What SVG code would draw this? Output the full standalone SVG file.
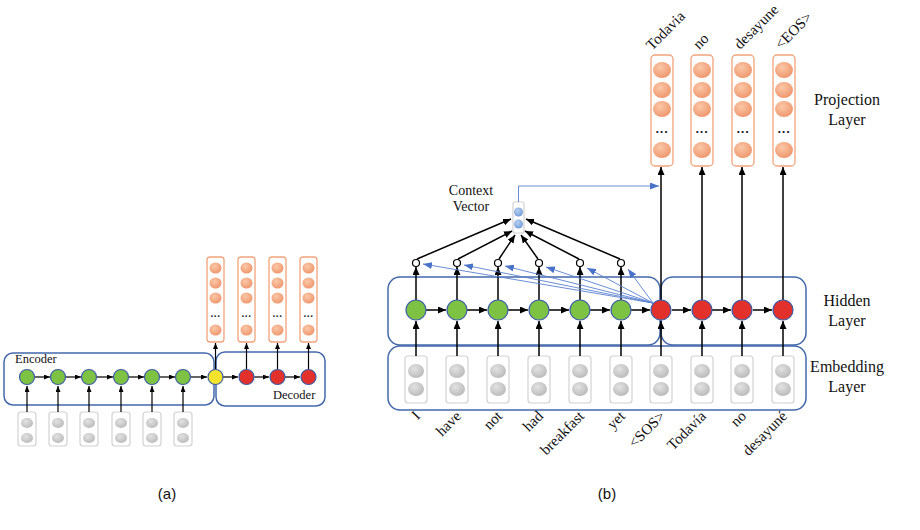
<svg xmlns="http://www.w3.org/2000/svg" width="920" height="530" viewBox="0 0 920 530">
<defs>
<marker id="ah" markerWidth="8" markerHeight="7" refX="8" refY="3.5" orient="auto" markerUnits="userSpaceOnUse"><path d="M0,0 L8,3.5 L0,7 z" fill="#000"/></marker>
<marker id="ahs" markerWidth="6" markerHeight="5" refX="6" refY="2.5" orient="auto" markerUnits="userSpaceOnUse"><path d="M0,0 L6,2.5 L0,5 z" fill="#000"/></marker>
<marker id="ab" markerWidth="9" markerHeight="7" refX="9" refY="3.5" orient="auto" markerUnits="userSpaceOnUse"><path d="M0,0 L9,3.5 L0,7 z" fill="#4A72C8"/></marker>
<radialGradient id="og" cx="0.4" cy="0.35" r="0.7"><stop offset="0" stop-color="#FBC8A8"/><stop offset="1" stop-color="#EE956B"/></radialGradient>
<radialGradient id="gg" cx="0.4" cy="0.35" r="0.7"><stop offset="0" stop-color="#E2E2E2"/><stop offset="1" stop-color="#B9B9B9"/></radialGradient>
<radialGradient id="bg" cx="0.4" cy="0.35" r="0.7"><stop offset="0" stop-color="#B8D0F0"/><stop offset="1" stop-color="#6F9AD8"/></radialGradient>
</defs>
<style>
.grp{fill:none;stroke:#4468AA;stroke-width:1.5}
.ob{fill:#fff;stroke:#F2A47C;stroke-width:1.3}
.oc{fill:url(#og)}
.gb{fill:#fff;stroke:#D2D2D2;stroke-width:1.2}
.gc{fill:url(#gg)}
.gn{fill:#7DC243;stroke:#3C5DA6;stroke-width:1.2}
.rn{fill:#E2302A;stroke:#3C5DA6;stroke-width:1.2}
.yn{fill:#F3E32C;stroke:#3C5DA6;stroke-width:1.2}
.ln{stroke:#000;stroke-width:1.5;fill:none}
.lns{stroke:#000;stroke-width:1.2;fill:none}
.bl{stroke:#5A80D0;stroke-width:0.9;fill:none}
.t{font-family:"Liberation Serif","Times New Roman",serif;fill:#111}
.dots{font-family:"Liberation Sans",Arial,sans-serif;font-weight:bold;fill:#222}
.cap{font-family:"Liberation Sans",Arial,sans-serif;font-size:15px;fill:#111}
</style>
<rect width="920" height="530" fill="#fff"/>

<!-- ===== Panel (a) ===== -->
<g id="a-encoder-box"><rect class="grp" x="4" y="353" width="210" height="52" rx="9"/><text class="t" x="15" y="363" font-size="12.5">Encoder</text></g>
<g id="a-decoder-box"><rect class="grp" x="216" y="352" width="109" height="54" rx="9"/><text class="t" x="273" y="399" font-size="12.5">Decoder</text></g>

<g id="a-emb">
<g id="a-emb1"><rect class="gb" x="18" y="412" width="18" height="34" rx="3"/><ellipse class="gc" cx="27" cy="423" rx="6" ry="5"/><ellipse class="gc" cx="27" cy="438" rx="6" ry="5"/></g>
<g id="a-emb2"><rect class="gb" x="49" y="412" width="18" height="34" rx="3"/><ellipse class="gc" cx="58" cy="423" rx="6" ry="5"/><ellipse class="gc" cx="58" cy="438" rx="6" ry="5"/></g>
<g id="a-emb3"><rect class="gb" x="80" y="412" width="18" height="34" rx="3"/><ellipse class="gc" cx="89" cy="423" rx="6" ry="5"/><ellipse class="gc" cx="89" cy="438" rx="6" ry="5"/></g>
<g id="a-emb4"><rect class="gb" x="112" y="412" width="18" height="34" rx="3"/><ellipse class="gc" cx="121" cy="423" rx="6" ry="5"/><ellipse class="gc" cx="121" cy="438" rx="6" ry="5"/></g>
<g id="a-emb5"><rect class="gb" x="143" y="412" width="18" height="34" rx="3"/><ellipse class="gc" cx="152" cy="423" rx="6" ry="5"/><ellipse class="gc" cx="152" cy="438" rx="6" ry="5"/></g>
<g id="a-emb6"><rect class="gb" x="174" y="412" width="18" height="34" rx="3"/><ellipse class="gc" cx="183" cy="423" rx="6" ry="5"/><ellipse class="gc" cx="183" cy="438" rx="6" ry="5"/></g>
</g>

<g id="a-proj">
<g id="a-proj1"><rect class="ob" x="207" y="257" width="17" height="85" rx="3"/><ellipse class="oc" cx="215.5" cy="268" rx="6" ry="5.5"/><ellipse class="oc" cx="215.5" cy="283" rx="6" ry="5.5"/><ellipse class="oc" cx="215.5" cy="298" rx="6" ry="5.5"/><text class="dots" x="215.5" y="320" font-size="10" text-anchor="middle">···</text><ellipse class="oc" cx="215.5" cy="330" rx="6" ry="5.5"/></g>
<g id="a-proj2"><rect class="ob" x="238" y="257" width="17" height="85" rx="3"/><ellipse class="oc" cx="246.5" cy="268" rx="6" ry="5.5"/><ellipse class="oc" cx="246.5" cy="283" rx="6" ry="5.5"/><ellipse class="oc" cx="246.5" cy="298" rx="6" ry="5.5"/><text class="dots" x="246.5" y="320" font-size="10" text-anchor="middle">···</text><ellipse class="oc" cx="246.5" cy="330" rx="6" ry="5.5"/></g>
<g id="a-proj3"><rect class="ob" x="269" y="257" width="17" height="85" rx="3"/><ellipse class="oc" cx="277.5" cy="268" rx="6" ry="5.5"/><ellipse class="oc" cx="277.5" cy="283" rx="6" ry="5.5"/><ellipse class="oc" cx="277.5" cy="298" rx="6" ry="5.5"/><text class="dots" x="277.5" y="320" font-size="10" text-anchor="middle">···</text><ellipse class="oc" cx="277.5" cy="330" rx="6" ry="5.5"/></g>
<g id="a-proj4"><rect class="ob" x="300" y="257" width="17" height="85" rx="3"/><ellipse class="oc" cx="308.5" cy="268" rx="6" ry="5.5"/><ellipse class="oc" cx="308.5" cy="283" rx="6" ry="5.5"/><ellipse class="oc" cx="308.5" cy="298" rx="6" ry="5.5"/><text class="dots" x="308.5" y="320" font-size="10" text-anchor="middle">···</text><ellipse class="oc" cx="308.5" cy="330" rx="6" ry="5.5"/></g>
</g>

<g id="a-connectors">
<line class="lns" x1="27" y1="412" x2="27" y2="386" marker-end="url(#ahs)"/>
<line class="lns" x1="58" y1="412" x2="58" y2="386" marker-end="url(#ahs)"/>
<line class="lns" x1="89" y1="412" x2="89" y2="386" marker-end="url(#ahs)"/>
<line class="lns" x1="121" y1="412" x2="121" y2="386" marker-end="url(#ahs)"/>
<line class="lns" x1="152" y1="412" x2="152" y2="386" marker-end="url(#ahs)"/>
<line class="lns" x1="183" y1="412" x2="183" y2="386" marker-end="url(#ahs)"/>
<line class="lns" x1="35" y1="377" x2="50" y2="377" marker-end="url(#ahs)"/>
<line class="lns" x1="66" y1="377" x2="81" y2="377" marker-end="url(#ahs)"/>
<line class="lns" x1="97" y1="377" x2="113" y2="377" marker-end="url(#ahs)"/>
<line class="lns" x1="129" y1="377" x2="144" y2="377" marker-end="url(#ahs)"/>
<line class="lns" x1="160" y1="377" x2="175" y2="377" marker-end="url(#ahs)"/>
<line class="lns" x1="191" y1="377" x2="207" y2="377" marker-end="url(#ahs)"/>
<line class="lns" x1="223" y1="377" x2="238" y2="377" marker-end="url(#ahs)"/>
<line class="lns" x1="254" y1="377" x2="269" y2="377" marker-end="url(#ahs)"/>
<line class="lns" x1="285" y1="377" x2="300" y2="377" marker-end="url(#ahs)"/>
<line class="lns" x1="215.5" y1="369" x2="215.5" y2="343" marker-end="url(#ahs)"/>
<line class="lns" x1="246.5" y1="369" x2="246.5" y2="343" marker-end="url(#ahs)"/>
<line class="lns" x1="277.5" y1="369" x2="277.5" y2="343" marker-end="url(#ahs)"/>
<line class="lns" x1="308.5" y1="369" x2="308.5" y2="343" marker-end="url(#ahs)"/>
</g>

<g id="a-nodes">
<circle id="a-e1" class="gn" cx="27" cy="377" r="7.5"/>
<circle id="a-e2" class="gn" cx="58" cy="377" r="7.5"/>
<circle id="a-e3" class="gn" cx="89" cy="377" r="7.5"/>
<circle id="a-e4" class="gn" cx="121" cy="377" r="7.5"/>
<circle id="a-e5" class="gn" cx="152" cy="377" r="7.5"/>
<circle id="a-e6" class="gn" cx="183" cy="377" r="7.5"/>
<circle id="a-ctx" class="yn" cx="215.5" cy="377" r="7.5"/>
<circle id="a-d1" class="rn" cx="246.5" cy="377" r="7.5"/>
<circle id="a-d2" class="rn" cx="277.5" cy="377" r="7.5"/>
<circle id="a-d3" class="rn" cx="308.5" cy="377" r="7.5"/>
</g>

<text class="cap" x="167" y="499" text-anchor="middle">(a)</text>

<!-- ===== Panel (b) ===== -->
<g id="b-embedding-layer"><rect class="grp" x="388" y="346" width="418" height="64" rx="12"/>
<text class="t" x="847" y="372" font-size="16" text-anchor="middle">Embedding</text><text class="t" x="847" y="392" font-size="16" text-anchor="middle">Layer</text></g>
<g id="b-hidden-enc"><rect class="grp" x="388" y="277" width="272" height="68" rx="12"/></g>
<g id="b-hidden-dec"><rect class="grp" x="661" y="277" width="145" height="68" rx="12"/>
<text class="t" x="847" y="306" font-size="16" text-anchor="middle">Hidden</text><text class="t" x="847" y="326" font-size="16" text-anchor="middle">Layer</text></g>
<g id="b-projection-label"><text class="t" x="847" y="105" font-size="16" text-anchor="middle">Projection</text><text class="t" x="847" y="125" font-size="16" text-anchor="middle">Layer</text></g>

<g id="b-emb">
<g id="b-emb1"><rect class="gb" x="405" y="356" width="22" height="47" rx="3"/><ellipse class="gc" cx="416" cy="371" rx="8" ry="7"/><ellipse class="gc" cx="416" cy="389" rx="8" ry="7"/><text class="t" font-size="15" text-anchor="end" transform="translate(421,417) rotate(-45)">I</text></g>
<g id="b-emb2"><rect class="gb" x="446" y="356" width="22" height="47" rx="3"/><ellipse class="gc" cx="457" cy="371" rx="8" ry="7"/><ellipse class="gc" cx="457" cy="389" rx="8" ry="7"/><text class="t" font-size="15" text-anchor="end" transform="translate(462,417) rotate(-45)">have</text></g>
<g id="b-emb3"><rect class="gb" x="487" y="356" width="22" height="47" rx="3"/><ellipse class="gc" cx="498" cy="371" rx="8" ry="7"/><ellipse class="gc" cx="498" cy="389" rx="8" ry="7"/><text class="t" font-size="15" text-anchor="end" transform="translate(503,417) rotate(-45)">not</text></g>
<g id="b-emb4"><rect class="gb" x="528" y="356" width="22" height="47" rx="3"/><ellipse class="gc" cx="539" cy="371" rx="8" ry="7"/><ellipse class="gc" cx="539" cy="389" rx="8" ry="7"/><text class="t" font-size="15" text-anchor="end" transform="translate(544,417) rotate(-45)">had</text></g>
<g id="b-emb5"><rect class="gb" x="569" y="356" width="22" height="47" rx="3"/><ellipse class="gc" cx="580" cy="371" rx="8" ry="7"/><ellipse class="gc" cx="580" cy="389" rx="8" ry="7"/><text class="t" font-size="15" text-anchor="end" transform="translate(585,417) rotate(-45)">breakfast</text></g>
<g id="b-emb6"><rect class="gb" x="610" y="356" width="22" height="47" rx="3"/><ellipse class="gc" cx="621" cy="371" rx="8" ry="7"/><ellipse class="gc" cx="621" cy="389" rx="8" ry="7"/><text class="t" font-size="15" text-anchor="end" transform="translate(626,417) rotate(-45)">yet</text></g>
<g id="b-emb7"><rect class="gb" x="650" y="356" width="22" height="47" rx="3"/><ellipse class="gc" cx="661" cy="371" rx="8" ry="7"/><ellipse class="gc" cx="661" cy="389" rx="8" ry="7"/><text class="t" font-size="15" text-anchor="end" transform="translate(666,417) rotate(-45)">&lt;SOS&gt;</text></g>
<g id="b-emb8"><rect class="gb" x="691" y="356" width="22" height="47" rx="3"/><ellipse class="gc" cx="702" cy="371" rx="8" ry="7"/><ellipse class="gc" cx="702" cy="389" rx="8" ry="7"/><text class="t" font-size="15" text-anchor="end" transform="translate(707,417) rotate(-45)">Todavía</text></g>
<g id="b-emb9"><rect class="gb" x="731" y="356" width="22" height="47" rx="3"/><ellipse class="gc" cx="742" cy="371" rx="8" ry="7"/><ellipse class="gc" cx="742" cy="389" rx="8" ry="7"/><text class="t" font-size="15" text-anchor="end" transform="translate(747,417) rotate(-45)">no</text></g>
<g id="b-emb10"><rect class="gb" x="772" y="356" width="22" height="47" rx="3"/><ellipse class="gc" cx="783" cy="371" rx="8" ry="7"/><ellipse class="gc" cx="783" cy="389" rx="8" ry="7"/><text class="t" font-size="15" text-anchor="end" transform="translate(788,417) rotate(-45)">desayuné</text></g>
</g>

<g id="b-proj">
<g id="b-proj1"><rect class="ob" x="651" y="55" width="22" height="111" rx="4"/><ellipse class="oc" cx="662" cy="70" rx="9" ry="8"/><ellipse class="oc" cx="662" cy="90" rx="9" ry="8"/><ellipse class="oc" cx="662" cy="109" rx="9" ry="8"/><text class="dots" x="662" y="136" font-size="13" text-anchor="middle">···</text><ellipse class="oc" cx="662" cy="150" rx="9" ry="8"/><text class="t" font-size="15" transform="translate(652,51) rotate(-45)">Todavia</text></g>
<g id="b-proj2"><rect class="ob" x="691" y="55" width="22" height="111" rx="4"/><ellipse class="oc" cx="702" cy="70" rx="9" ry="8"/><ellipse class="oc" cx="702" cy="90" rx="9" ry="8"/><ellipse class="oc" cx="702" cy="109" rx="9" ry="8"/><text class="dots" x="702" y="136" font-size="13" text-anchor="middle">···</text><ellipse class="oc" cx="702" cy="150" rx="9" ry="8"/><text class="t" font-size="15" transform="translate(699,50) rotate(-45)">no</text></g>
<g id="b-proj3"><rect class="ob" x="732" y="55" width="22" height="111" rx="4"/><ellipse class="oc" cx="743" cy="70" rx="9" ry="8"/><ellipse class="oc" cx="743" cy="90" rx="9" ry="8"/><ellipse class="oc" cx="743" cy="109" rx="9" ry="8"/><text class="dots" x="743" y="136" font-size="13" text-anchor="middle">···</text><ellipse class="oc" cx="743" cy="150" rx="9" ry="8"/><text class="t" font-size="15" transform="translate(740,50) rotate(-45)">desayune</text></g>
<g id="b-proj4"><rect class="ob" x="773" y="55" width="22" height="111" rx="4"/><ellipse class="oc" cx="784" cy="70" rx="9" ry="8"/><ellipse class="oc" cx="784" cy="90" rx="9" ry="8"/><ellipse class="oc" cx="784" cy="109" rx="9" ry="8"/><text class="dots" x="784" y="136" font-size="13" text-anchor="middle">···</text><ellipse class="oc" cx="784" cy="150" rx="9" ry="8"/><text class="t" font-size="15" transform="translate(781,50) rotate(-45)">&lt;EOS&gt;</text></g>
</g>

<g id="b-context-vector"><rect class="gb" x="513" y="202" width="11" height="31" rx="2"/><circle cx="518.5" cy="212" r="4.5" fill="url(#bg)"/><circle cx="518.5" cy="224" r="4.5" fill="url(#bg)"/>
<text class="t" x="471" y="195" font-size="14" text-anchor="middle">Context</text><text class="t" x="471" y="211" font-size="14" text-anchor="middle">Vector</text></g>

<g id="b-connectors">
<line class="ln" x1="416" y1="356" x2="416" y2="321" marker-end="url(#ah)"/>
<line class="ln" x1="457" y1="356" x2="457" y2="321" marker-end="url(#ah)"/>
<line class="ln" x1="498" y1="356" x2="498" y2="321" marker-end="url(#ah)"/>
<line class="ln" x1="539" y1="356" x2="539" y2="321" marker-end="url(#ah)"/>
<line class="ln" x1="580" y1="356" x2="580" y2="321" marker-end="url(#ah)"/>
<line class="ln" x1="621" y1="356" x2="621" y2="321" marker-end="url(#ah)"/>
<line class="ln" x1="661" y1="356" x2="661" y2="321" marker-end="url(#ah)"/>
<line class="ln" x1="702" y1="356" x2="702" y2="321" marker-end="url(#ah)"/>
<line class="ln" x1="742" y1="356" x2="742" y2="321" marker-end="url(#ah)"/>
<line class="ln" x1="783" y1="356" x2="783" y2="321" marker-end="url(#ah)"/>
<line class="ln" x1="426" y1="310" x2="446" y2="310" marker-end="url(#ah)"/>
<line class="ln" x1="467" y1="310" x2="487" y2="310" marker-end="url(#ah)"/>
<line class="ln" x1="508" y1="310" x2="528" y2="310" marker-end="url(#ah)"/>
<line class="ln" x1="549" y1="310" x2="569" y2="310" marker-end="url(#ah)"/>
<line class="ln" x1="590" y1="310" x2="610" y2="310" marker-end="url(#ah)"/>
<line class="ln" x1="631" y1="310" x2="650" y2="310" marker-end="url(#ah)"/>
<line class="ln" x1="672" y1="310" x2="691" y2="310" marker-end="url(#ah)"/>
<line class="ln" x1="712" y1="310" x2="731" y2="310" marker-end="url(#ah)"/>
<line class="ln" x1="753" y1="310" x2="772" y2="310" marker-end="url(#ah)"/>
<line class="ln" x1="416" y1="300" x2="416" y2="267" marker-end="url(#ah)"/>
<line class="ln" x1="457" y1="300" x2="457" y2="267" marker-end="url(#ah)"/>
<line class="ln" x1="498" y1="300" x2="498" y2="267" marker-end="url(#ah)"/>
<line class="ln" x1="539" y1="300" x2="539" y2="267" marker-end="url(#ah)"/>
<line class="ln" x1="580" y1="300" x2="580" y2="267" marker-end="url(#ah)"/>
<line class="ln" x1="621" y1="300" x2="621" y2="267" marker-end="url(#ah)"/>
<line class="ln" x1="661" y1="300" x2="661" y2="167" marker-end="url(#ah)"/>
<line class="ln" x1="702" y1="300" x2="702" y2="167" marker-end="url(#ah)"/>
<line class="ln" x1="742" y1="300" x2="742" y2="167" marker-end="url(#ah)"/>
<line class="ln" x1="783" y1="300" x2="783" y2="167" marker-end="url(#ah)"/>
<line class="ln" x1="417" y1="259" x2="511" y2="219" marker-end="url(#ah)"/>
<line class="ln" x1="458" y1="259" x2="512" y2="231" marker-end="url(#ah)"/>
<line class="ln" x1="499" y1="259" x2="515" y2="235" marker-end="url(#ah)"/>
<line class="ln" x1="538" y1="259" x2="521" y2="235" marker-end="url(#ah)"/>
<line class="ln" x1="579" y1="259" x2="525" y2="231" marker-end="url(#ah)"/>
<line class="ln" x1="620" y1="259" x2="526" y2="219" marker-end="url(#ah)"/>
<polyline class="bl" points="518.5,202 518.5,186 659,186" marker-end="url(#ab)"/>
<line class="bl" x1="653" y1="303" x2="423" y2="264" marker-end="url(#ab)"/>
<line class="bl" x1="653" y1="303" x2="464" y2="265" marker-end="url(#ab)"/>
<line class="bl" x1="653" y1="303" x2="505" y2="266" marker-end="url(#ab)"/>
<line class="bl" x1="653" y1="303" x2="546" y2="267" marker-end="url(#ab)"/>
<line class="bl" x1="653" y1="303" x2="587" y2="268" marker-end="url(#ab)"/>
<line class="bl" x1="653" y1="303" x2="628" y2="269" marker-end="url(#ab)"/>
</g>

<g id="b-attn">
<circle cx="416" cy="263" r="3.5" fill="#fff" stroke="#000" stroke-width="1.2"/>
<circle cx="457" cy="263" r="3.5" fill="#fff" stroke="#000" stroke-width="1.2"/>
<circle cx="498" cy="263" r="3.5" fill="#fff" stroke="#000" stroke-width="1.2"/>
<circle cx="539" cy="263" r="3.5" fill="#fff" stroke="#000" stroke-width="1.2"/>
<circle cx="580" cy="263" r="3.5" fill="#fff" stroke="#000" stroke-width="1.2"/>
<circle cx="621" cy="263" r="3.5" fill="#fff" stroke="#000" stroke-width="1.2"/>
</g>

<g id="b-nodes">
<circle id="b-h1" class="gn" cx="416" cy="310" r="10"/>
<circle id="b-h2" class="gn" cx="457" cy="310" r="10"/>
<circle id="b-h3" class="gn" cx="498" cy="310" r="10"/>
<circle id="b-h4" class="gn" cx="539" cy="310" r="10"/>
<circle id="b-h5" class="gn" cx="580" cy="310" r="10"/>
<circle id="b-h6" class="gn" cx="621" cy="310" r="10"/>
<circle id="b-d1" class="rn" cx="661" cy="310" r="10"/>
<circle id="b-d2" class="rn" cx="702" cy="310" r="10"/>
<circle id="b-d3" class="rn" cx="742" cy="310" r="10"/>
<circle id="b-d4" class="rn" cx="783" cy="310" r="10"/>
</g>

<text class="cap" x="607" y="499" text-anchor="middle">(b)</text>
</svg>
